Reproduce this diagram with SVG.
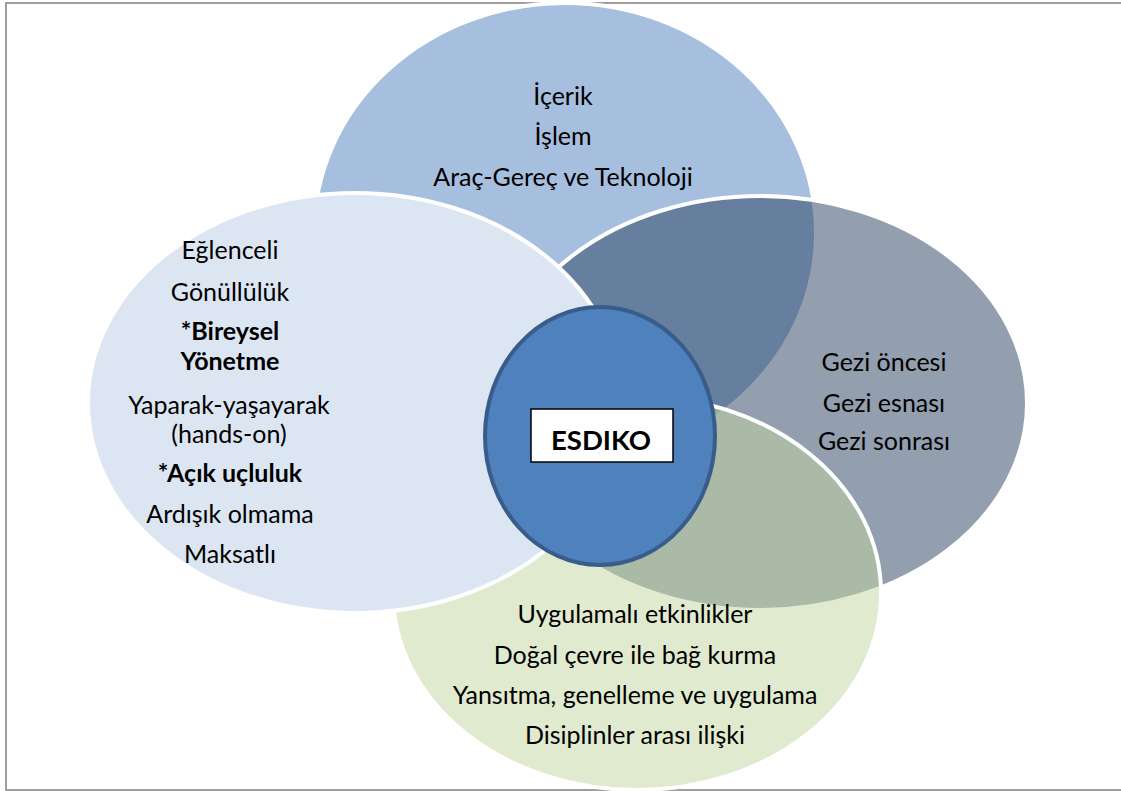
<svg xmlns="http://www.w3.org/2000/svg" width="1121" height="791" viewBox="0 0 1121 791">
  <style>
    .lbl { font-family: Lato, "Open Sans", "Liberation Sans", sans-serif; font-size: 25px; fill: #000; text-anchor: middle; }
    .b { font-weight: bold; }
    .petal { stroke: #fff; stroke-width: 4; }
  </style>
  <rect x="0" y="0" width="1121" height="791" fill="#fff"/>
  <!-- outer frame -->
  <rect x="6" y="3" width="1122" height="787" fill="none" stroke="#808080" stroke-width="1.5"/>

  <g id="node-top">
    <ellipse class="petal" cx="565" cy="233" rx="251" ry="230" fill="#4F7FBD" fill-opacity="0.5"/>
    <text class="lbl" x="563" y="105">İçerik</text>
    <text class="lbl" x="563" y="145">İşlem</text>
    <text class="lbl" x="563" y="186">Araç-Gereç ve Teknoloji</text>
  </g>

  <g id="node-right">
    <ellipse class="petal" cx="760" cy="403" rx="267" ry="207" fill="#273F5F" fill-opacity="0.5"/>
    <text class="lbl" x="884" y="371">Gezi öncesi</text>
    <text class="lbl" x="884" y="412">Gezi esnası</text>
    <text class="lbl" x="884" y="450">Gezi sonrası</text>
  </g>

  <g id="node-bottom">
    <ellipse class="petal" cx="637" cy="593" rx="244" ry="197" fill="#C1D59F" fill-opacity="0.5"/>
    <text class="lbl" x="635" y="623">Uygulamalı etkinlikler</text>
    <text class="lbl" x="635" y="664">Doğal çevre ile bağ kurma</text>
    <text class="lbl" x="635" y="704">Yansıtma, genelleme ve uygulama</text>
    <text class="lbl" x="635" y="744">Disiplinler arası ilişki</text>
  </g>

  <g id="node-left">
    <ellipse class="petal" cx="355" cy="403" rx="267" ry="210" fill="#DCE6F2"/>
    <text class="lbl" x="230" y="259">Eğlenceli</text>
    <text class="lbl" x="230" y="301">Gönüllülük</text>
    <text class="lbl b" x="230" y="340">*Bireysel</text>
    <text class="lbl b" x="230" y="370">Yönetme</text>
    <text class="lbl" x="229" y="414">Yaparak-yaşayarak</text>
    <text class="lbl" x="229" y="443">(hands-on)</text>
    <text class="lbl b" x="230" y="482">*Açık uçluluk</text>
    <text class="lbl" x="230" y="523">Ardışık olmama</text>
    <text class="lbl" x="230" y="563">Maksatlı</text>
  </g>

  <g id="node-center">
    <ellipse cx="600" cy="436" rx="115" ry="129" fill="#4F81BD" stroke="#385D8A" stroke-width="4"/>
    <rect x="531" y="409" width="142" height="53" fill="#fff" stroke="#000" stroke-width="1.5"/>
    <text class="lbl b" x="601" y="450" style="font-size:27.5px">ESDIKO</text>
  </g>

  <g id="connectors"/>
</svg>
